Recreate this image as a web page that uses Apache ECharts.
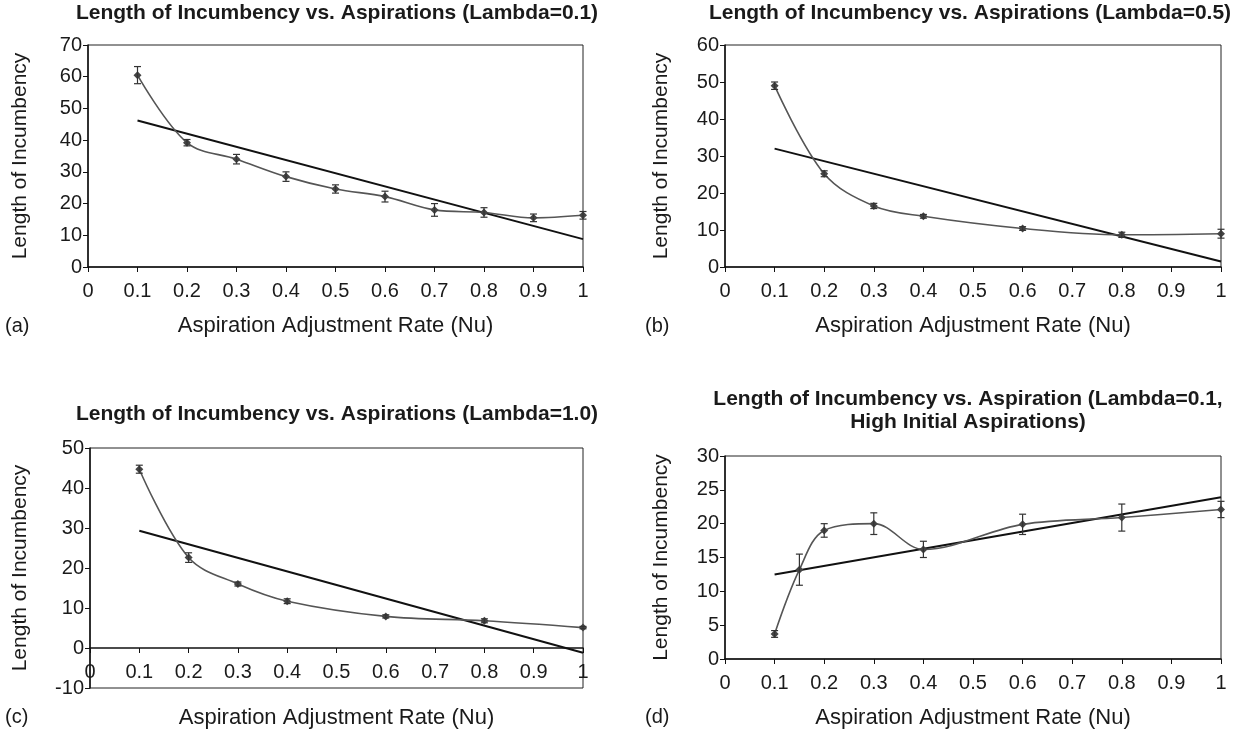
<!DOCTYPE html>
<html>
<head>
<meta charset="utf-8">
<script src="https://cdn.jsdelivr.net/npm/echarts@6/dist/echarts.min.js"></script>
<style>
  html, body { margin: 0; padding: 0; background: #fff; }
  #chart { width: 1238px; height: 736px; }
</style>
</head>
<body>
<div id="chart"></div>
<script>
// Aspiration adjustment rate (Nu) sample points per panel
const nuA = [0.1, 0.2, 0.3, 0.4, 0.5, 0.6, 0.7, 0.8, 0.9, 1.0];
const nuB = [0.1, 0.2, 0.3, 0.4, 0.6, 0.8, 1.0];
const nuC = [0.1, 0.2, 0.3, 0.4, 0.6, 0.8, 1.0];
const nuD = [0.1, 0.15, 0.2, 0.3, 0.4, 0.6, 0.8, 1.0];

// Mean length of incumbency
const lenA = [60.5, 39.2, 34.0, 28.5, 24.6, 22.2, 18.0, 17.2, 15.5, 16.3];
const lenB = [49.0, 25.2, 16.5, 13.7, 10.4, 8.7, 9.0];
const lenC = [44.7, 22.6, 16.0, 11.7, 7.9, 6.8, 5.1];
const lenD = [3.7, 13.2, 19.0, 20.0, 16.2, 19.9, 20.9, 22.1];

// Half-width of the error bars
const errA = [2.7, 1.0, 1.5, 1.5, 1.3, 1.7, 2.0, 1.5, 1.2, 1.2];
const errB = [1.0, 0.8, 0.7, 0.5, 0.5, 0.7, 1.2];
const errC = [1.0, 1.2, 0.5, 0.6, 0.4, 0.5, 0.3];
const errD = [0.5, 2.3, 1.0, 1.6, 1.2, 1.5, 2.0, 1.2];

// Linear trend line end points [Nu, length]
const trendA = [[0.1, 46.2], [1.0, 8.8]];
const trendB = [[0.1, 32.0], [1.0, 1.5]];
const trendC = [[0.1, 29.3], [1.0, -1.2]];
const trendD = [[0.1, 12.5], [1.0, 23.9]];

// Axis ranges
const yMax = [70, 60, 50, 30];
const yMin = [0, 0, -10, 0];
const yStep = [10, 10, 10, 5];

const titles = [
  'Length of Incumbency vs. Aspirations (Lambda=0.1)',
  'Length of Incumbency vs. Aspirations (Lambda=0.5)',
  'Length of Incumbency vs. Aspirations (Lambda=1.0)',
  'Length of Incumbency vs. Aspiration (Lambda=0.1,\nHigh Initial Aspirations)'
];
const panelTags = ['(a)', '(b)', '(c)', '(d)'];
const xName = 'Aspiration Adjustment Rate (Nu)';
const yName = 'Length of Incumbency';

const FONT = 'Liberation Sans, Arial, sans-serif';
const INK = '#1a1a1a';

// Panel layout
const grids = [
  { left: 88, top: 45, width: 495, height: 222 },
  { left: 725, top: 45, width: 496, height: 222 },
  { left: 90, top: 448, width: 493, height: 240 },
  { left: 725, top: 456, width: 496, height: 203 }
];
const titlePos = [
  { x: 337, y: 2 },
  { x: 970, y: 2 },
  { x: 337, y: 403 },
  { x: 968, y: 388 }
];
// panel (c): the x axis sits on the zero line, 40px above the plot's bottom edge
const xAxisOffset = [0, 0, -40, 0];
const xNameGap = [48, 48, 59, 48];
const yNameGap = [57, 53, 59, 53];
const tagPos = [
  { x: 5, y: 316 }, { x: 645, y: 316 }, { x: 5, y: 707 }, { x: 645, y: 707 }
];

const nus = [nuA, nuB, nuC, nuD];
const lens = [lenA, lenB, lenC, lenD];
const errs = [errA, errB, errC, errD];
const trends = [trendA, trendB, trendC, trendD];

function errorBarItem(params, api) {
  const x = api.value(0);
  const lo = api.coord([x, api.value(1)]);
  const hi = api.coord([x, api.value(2)]);
  const cap = 3.5;
  const style = { stroke: '#333', lineWidth: 1.2 };
  return {
    type: 'group',
    children: [
      { type: 'line', shape: { x1: lo[0], y1: lo[1], x2: hi[0], y2: hi[1] }, style },
      { type: 'line', shape: { x1: lo[0] - cap, y1: lo[1], x2: lo[0] + cap, y2: lo[1] }, style },
      { type: 'line', shape: { x1: hi[0] - cap, y1: hi[1], x2: hi[0] + cap, y2: hi[1] }, style }
    ]
  };
}

const option = {
  animation: false,
  backgroundColor: '#fff',
  title: titles.map((t, i) => ({
    text: t,
    left: titlePos[i].x,
    top: titlePos[i].y,
    textAlign: 'center',
    padding: 0,
    textStyle: { fontFamily: FONT, fontSize: 21, fontWeight: 'bold', color: INK, lineHeight: 23 }
  })),
  graphic: panelTags.map((t, i) => ({
    type: 'text',
    left: tagPos[i].x,
    top: tagPos[i].y,
    style: { text: t, font: '20px ' + FONT, fill: INK }
  })),
  grid: grids.map(g => Object.assign({
    show: true, borderColor: '#222', borderWidth: 1,
    backgroundColor: 'transparent', containLabel: false, outerBoundsMode: 'none'
  }, g)),
  xAxis: grids.map((g, i) => ({
    type: 'value',
    gridIndex: i,
    position: 'bottom',
    offset: xAxisOffset[i],
    min: 0,
    max: 1,
    interval: 0.1,
    name: xName,
    nameLocation: 'middle',
    nameGap: xNameGap[i],
    nameTextStyle: { fontFamily: FONT, fontSize: 22, color: INK },
    axisLine: { onZero: false, lineStyle: { color: '#111', width: 1.5 } },
    axisTick: { show: true, length: 5, lineStyle: { color: '#111' } },
    axisLabel: { fontFamily: FONT, fontSize: 20, color: INK, margin: 14 },
    splitLine: { show: false }
  })),
  yAxis: grids.map((g, i) => ({
    type: 'value',
    gridIndex: i,
    min: yMin[i],
    max: yMax[i],
    interval: yStep[i],
    name: yName,
    nameLocation: 'middle',
    nameGap: yNameGap[i],
    nameTextStyle: { fontFamily: FONT, fontSize: 21, color: INK },
    axisLine: { show: true, onZero: false, lineStyle: { color: '#111', width: 1.5 } },
    axisTick: { show: true, length: 5, lineStyle: { color: '#111' } },
    axisLabel: { fontFamily: FONT, fontSize: 20, color: INK, margin: 6 },
    splitLine: { show: false }
  })),
  series: []
};

for (let i = 0; i < 4; i++) {
  option.series.push({
    type: 'line',
    xAxisIndex: i,
    yAxisIndex: i,
    data: trends[i],
    symbol: 'none',
    lineStyle: { color: '#111', width: 2 },
    z: 2
  });
  option.series.push({
    type: 'line',
    xAxisIndex: i,
    yAxisIndex: i,
    data: nus[i].map((x, k) => [x, lens[i][k]]),
    smooth: 0.35,
    symbol: 'diamond',
    symbolSize: 8,
    itemStyle: { color: '#444' },
    lineStyle: { color: '#555', width: 1.6 },
    z: 3
  });
  option.series.push({
    type: 'custom',
    xAxisIndex: i,
    yAxisIndex: i,
    renderItem: errorBarItem,
    data: nus[i].map((x, k) => [x, lens[i][k] - errs[i][k], lens[i][k] + errs[i][k]]),
    z: 4
  });
}

const chart = echarts.init(document.getElementById('chart'), null, { renderer: 'canvas' });
chart.setOption(option);
</script>
</body>
</html>
